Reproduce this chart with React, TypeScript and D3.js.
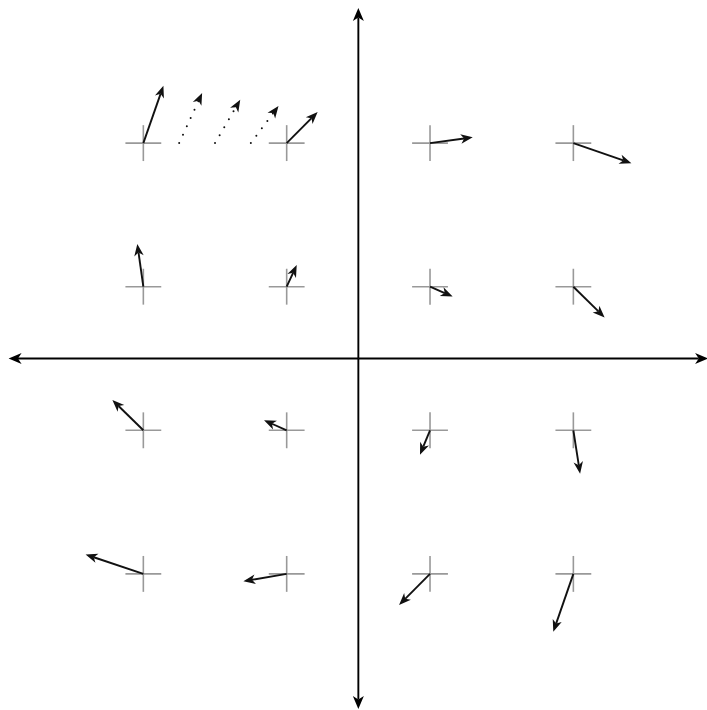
import React from "react";
import * as d3 from "d3";

// grid positions (data units)
const gridX = [-1.5, -0.5, 0.5, 1.5];
const gridY = [1.5, 0.5, -0.5, -1.5];

// vector components [u, v] per grid point, row by row (top to bottom), columns left to right
const vectorsU = [
  [0.14, 0.216, 0.298, 0.405],
  [-0.042, 0.07, 0.158, 0.218],
  [-0.216, -0.158, -0.07, 0.047],
  [-0.403, -0.302, -0.216, -0.14],
];
const vectorsV = [
  [0.4, 0.216, 0.04, -0.14],
  [0.298, 0.151, -0.068, -0.214],
  [0.211, 0.07, -0.17, -0.302],
  [0.135, -0.051, -0.216, -0.403],
];

// dotted intermediate arrows in the top row
const dottedX = [-1.25, -1.0, -0.75];
const dottedY = [1.5, 1.5, 1.5];
const dottedU = [0.16, 0.176, 0.193];
const dottedV = [0.349, 0.302, 0.258];

const axisExtent = 2.44;
const crossHalf = 0.125;

const W = 707;
const H = 710;

const xScale = d3.scaleLinear().domain([-2.5, 2.5]).range([0, 716.7]);
const yScale = d3.scaleLinear().domain([-2.5, 2.5]).range([717.5, -0.5]);

function Arrow({ x1, y1, x2, y2, color, width, headLen, headW, dash }: any) {
  const ang = Math.atan2(y2 - y1, x2 - x1);
  const len = Math.hypot(x2 - x1, y2 - y1);
  const notch = headLen * 0.72;
  const ex = x2 - Math.cos(ang) * notch;
  const ey = y2 - Math.sin(ang) * notch;
  const deg = (ang * 180) / Math.PI;
  const head = `M0,0 L${-headLen},${-headW / 2} L${-notch},0 L${-headLen},${headW / 2} Z`;
  return (
    <g>
      {len > notch && (
        <line
          x1={x1}
          y1={y1}
          x2={ex}
          y2={ey}
          stroke={color}
          strokeWidth={width}
          strokeDasharray={dash}
          strokeLinecap={dash ? "round" : "butt"}
        />
      )}
      <path d={head} transform={`translate(${x2},${y2}) rotate(${deg})`} fill={color} />
    </g>
  );
}

export default function App() {
  const cx = xScale(0);
  const cy = yScale(0);
  const crosses: any[] = [];
  const arrows: any[] = [];
  gridY.forEach((gy, r) => {
    gridX.forEach((gx, c) => {
      crosses.push(
        <g key={`c${r}${c}`} stroke="#999" strokeWidth={1.6}>
          <line x1={xScale(gx - crossHalf)} x2={xScale(gx + crossHalf)} y1={yScale(gy)} y2={yScale(gy)} />
          <line x1={xScale(gx)} x2={xScale(gx)} y1={yScale(gy - crossHalf)} y2={yScale(gy + crossHalf)} />
        </g>
      );
      arrows.push(
        <Arrow
          key={`a${r}${c}`}
          x1={xScale(gx)}
          y1={yScale(gy)}
          x2={xScale(gx + vectorsU[r][c])}
          y2={yScale(gy + vectorsV[r][c])}
          color="#111"
          width={1.9}
          headLen={12}
          headW={9.5}
        />
      );
    });
  });
  const dotted = dottedX.map((dx, i) => (
    <Arrow
      key={`d${i}`}
      x1={xScale(dx)}
      y1={yScale(dottedY[i])}
      x2={xScale(dx + dottedU[i])}
      y2={yScale(dottedY[i] + dottedV[i])}
      color="#111"
      width={2}
      headLen={12}
      headW={9.5}
      dash="0 9.2"
    />
  ));
  return (
    <svg
      width={W}
      height={H}
      style={{ position: "absolute", left: 0, top: 0, background: "#fff" }}
    >
      <Arrow x1={cx} y1={cy} x2={xScale(axisExtent)} y2={cy} color="#000" width={1.9} headLen={13} headW={11} />
      <Arrow x1={cx} y1={cy} x2={xScale(-axisExtent)} y2={cy} color="#000" width={1.9} headLen={13} headW={11} />
      <Arrow x1={cx} y1={cy} x2={cx} y2={yScale(axisExtent)} color="#000" width={1.9} headLen={13} headW={11} />
      <Arrow x1={cx} y1={cy} x2={cx} y2={yScale(-axisExtent)} color="#000" width={1.9} headLen={13} headW={11} />
      {crosses}
      {arrows}
      {dotted}
    </svg>
  );
}
